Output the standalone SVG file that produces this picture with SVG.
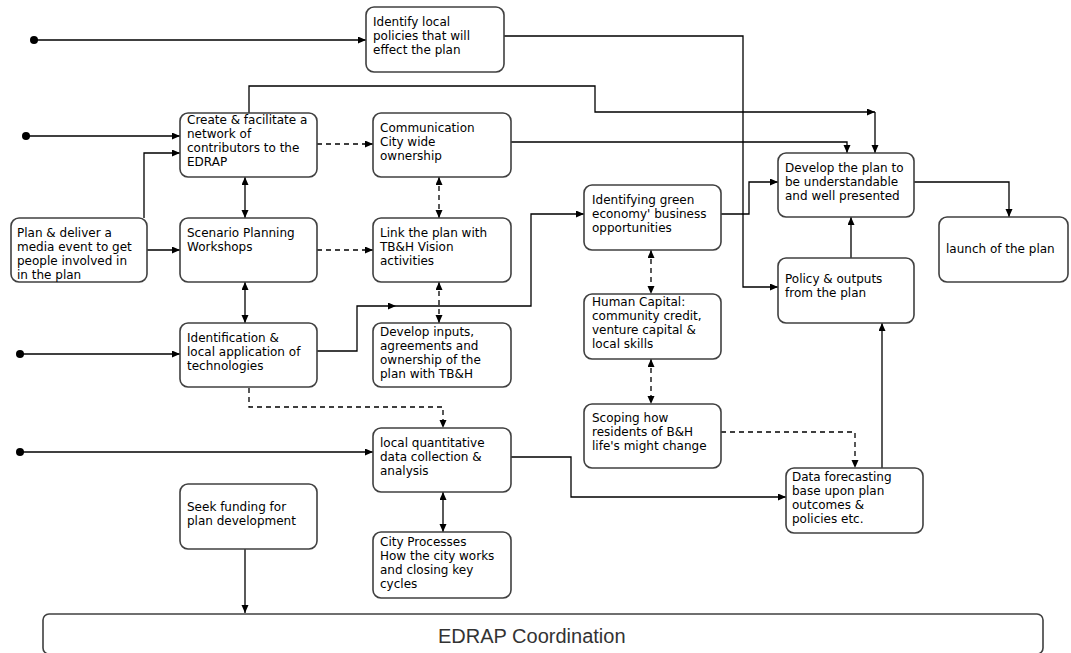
<svg xmlns="http://www.w3.org/2000/svg" width="1071" height="653" viewBox="0 0 1071 653">
<style>
.box{fill:#fff;stroke:#404040;stroke-width:1.6}
.t{font-family:"DejaVu Sans",sans-serif;font-size:12px;fill:#000}
.c{fill:none;stroke:#000;stroke-width:1.3}
.d{fill:none;stroke:#000;stroke-width:1.3;stroke-dasharray:5 4}
.big{font-family:"Liberation Sans",Arial,sans-serif;font-size:20px;fill:#333}
</style>
<defs>
<marker id="a" markerUnits="userSpaceOnUse" markerWidth="9" markerHeight="8" refX="8" refY="3.5" orient="auto-start-reverse"><path d="M0,0 L8,3.5 L0,7 z" fill="#000"/></marker>
</defs>
<rect width="1071" height="653" fill="#fff"/>
<g id="connectors">
<circle cx="34" cy="40" r="4" fill="#000"/>
<path class="c" d="M34,40 H366" marker-end="url(#a)"/>
<circle cx="26" cy="136" r="4" fill="#000"/>
<path class="c" d="M26,136 H180" marker-end="url(#a)"/>
<circle cx="20" cy="354" r="4" fill="#000"/>
<path class="c" d="M20,354 H180" marker-end="url(#a)"/>
<circle cx="20" cy="452" r="4" fill="#000"/>
<path class="c" d="M20,452 H373" marker-end="url(#a)"/>
<path class="c" d="M504,36 H743 V287 H778" marker-end="url(#a)"/>
<path class="c" d="M249,113 V86 H595 V112 H875" marker-end="url(#a)"/>
<path class="c" d="M875,112 V153" marker-end="url(#a)"/>
<path class="c" d="M511,142 H847 V153" marker-end="url(#a)"/>
<path class="c" d="M144,218 V153 H180" marker-end="url(#a)"/>
<path class="d" d="M317,144 H373" marker-end="url(#a)"/>
<path class="c" d="M245,177 V218" marker-start="url(#a)" marker-end="url(#a)"/>
<path class="d" d="M439,177 V218" marker-start="url(#a)" marker-end="url(#a)"/>
<path class="c" d="M147,250 H180" marker-end="url(#a)"/>
<path class="d" d="M317,250 H373" marker-end="url(#a)"/>
<path class="c" d="M245,282 V323" marker-start="url(#a)" marker-end="url(#a)"/>
<path class="d" d="M439,282 V323" marker-start="url(#a)" marker-end="url(#a)"/>
<path class="c" d="M317,351 H357 V306 H396" marker-end="url(#a)"/>
<path class="c" d="M396,306 H531 V214 H584" marker-end="url(#a)"/>
<path class="c" d="M721,214 H749 V182 H778" marker-end="url(#a)"/>
<path class="d" d="M651,250 V294" marker-start="url(#a)" marker-end="url(#a)"/>
<path class="d" d="M651,359 V404" marker-start="url(#a)" marker-end="url(#a)"/>
<path class="c" d="M914,182 H1009 V217" marker-end="url(#a)"/>
<path class="c" d="M851,258 V217" marker-end="url(#a)"/>
<path class="c" d="M882,468 V323" marker-end="url(#a)"/>
<path class="d" d="M721,432 H855 V468" marker-end="url(#a)"/>
<path class="c" d="M511,457 H571 V497 H786" marker-end="url(#a)"/>
<path class="d" d="M249,388 V407 H443 V428" marker-end="url(#a)"/>
<path class="c" d="M443,492 V532" marker-start="url(#a)" marker-end="url(#a)"/>
<path class="c" d="M245,549 V613" marker-end="url(#a)"/>
</g>
<g id="n-identify-policies"><rect class="box" x="366" y="7" width="138" height="65" rx="8"/><text class="t" x="373" y="26">Identify local<tspan x="373" dy="14">policies that will</tspan><tspan x="373" dy="14">effect the plan</tspan></text></g>
<g id="n-create-network"><rect class="box" x="180" y="113" width="137" height="64" rx="8"/><text class="t" x="187" y="124">Create &amp; facilitate a<tspan x="187" dy="14">network of</tspan><tspan x="187" dy="14">contributors to the</tspan><tspan x="187" dy="14">EDRAP</tspan></text></g>
<g id="n-communication"><rect class="box" x="373" y="113" width="138" height="64" rx="8"/><text class="t" x="380" y="132">Communication<tspan x="380" dy="14">City wide</tspan><tspan x="380" dy="14">ownership</tspan></text></g>
<g id="n-media-event"><rect class="box" x="11" y="218" width="136" height="64" rx="8"/><text class="t" x="17" y="237">Plan &amp; deliver a<tspan x="17" dy="14">media event to get</tspan><tspan x="17" dy="14">people involved in</tspan><tspan x="17" dy="14">in the plan</tspan></text></g>
<g id="n-scenario"><rect class="box" x="180" y="218" width="137" height="64" rx="8"/><text class="t" x="187" y="237">Scenario Planning<tspan x="187" dy="14">Workshops</tspan></text></g>
<g id="n-link-plan"><rect class="box" x="373" y="218" width="138" height="64" rx="8"/><text class="t" x="380" y="237">Link the plan with<tspan x="380" dy="14">TB&amp;H Vision</tspan><tspan x="380" dy="14">activities</tspan></text></g>
<g id="n-identification"><rect class="box" x="180" y="323" width="137" height="64" rx="8"/><text class="t" x="187" y="342">Identification &amp;<tspan x="187" dy="14">local application of</tspan><tspan x="187" dy="14">technologies</tspan></text></g>
<g id="n-develop-inputs"><rect class="box" x="373" y="323" width="138" height="64" rx="8"/><text class="t" x="380" y="336">Develop inputs,<tspan x="380" dy="14">agreements and</tspan><tspan x="380" dy="14">ownership of the</tspan><tspan x="380" dy="14">plan with TB&amp;H</tspan></text></g>
<g id="n-green-economy"><rect class="box" x="584" y="185" width="137" height="65" rx="8"/><text class="t" x="592" y="204">Identifying green<tspan x="592" dy="14">economy' business</tspan><tspan x="592" dy="14">opportunities</tspan></text></g>
<g id="n-human-capital"><rect class="box" x="584" y="294" width="137" height="65" rx="8"/><text class="t" x="592" y="306">Human Capital:<tspan x="592" dy="14">community credit,</tspan><tspan x="592" dy="14">venture capital &amp;</tspan><tspan x="592" dy="14">local skills</tspan></text></g>
<g id="n-scoping"><rect class="box" x="584" y="404" width="137" height="64" rx="8"/><text class="t" x="592" y="422">Scoping how<tspan x="592" dy="14">residents of B&amp;H</tspan><tspan x="592" dy="14">life's might change</tspan></text></g>
<g id="n-develop-plan"><rect class="box" x="778" y="153" width="136" height="64" rx="8"/><text class="t" x="785" y="172">Develop the plan to<tspan x="785" dy="14">be understandable</tspan><tspan x="785" dy="14">and well presented</tspan></text></g>
<g id="n-policy-outputs"><rect class="box" x="778" y="258" width="136" height="65" rx="8"/><text class="t" x="785" y="283">Policy &amp; outputs<tspan x="785" dy="14">from the plan</tspan></text></g>
<g id="n-launch"><rect class="box" x="939" y="217" width="129" height="65" rx="8"/><text class="t" x="946" y="253">launch of the plan</text></g>
<g id="n-data-forecasting"><rect class="box" x="786" y="468" width="137" height="65" rx="8"/><text class="t" x="792" y="481">Data forecasting<tspan x="792" dy="14">base upon plan</tspan><tspan x="792" dy="14">outcomes &amp;</tspan><tspan x="792" dy="14">policies etc.</tspan></text></g>
<g id="n-local-quantitative"><rect class="box" x="373" y="428" width="138" height="64" rx="8"/><text class="t" x="380" y="447">local quantitative<tspan x="380" dy="14">data collection &amp;</tspan><tspan x="380" dy="14">analysis</tspan></text></g>
<g id="n-seek-funding"><rect class="box" x="180" y="484" width="137" height="65" rx="8"/><text class="t" x="187" y="511">Seek funding for<tspan x="187" dy="14">plan development</tspan></text></g>
<g id="n-city-processes"><rect class="box" x="373" y="532" width="138" height="66" rx="8"/><text class="t" x="380" y="546">City Processes<tspan x="380" dy="14">How the city works</tspan><tspan x="380" dy="14">and closing key</tspan><tspan x="380" dy="14">cycles</tspan></text></g>
<g id="n-edrap-coordination"><rect class="box" x="43" y="614" width="1000" height="40" rx="6"/><text class="big" x="438" y="643">EDRAP Coordination</text></g>
</svg>
